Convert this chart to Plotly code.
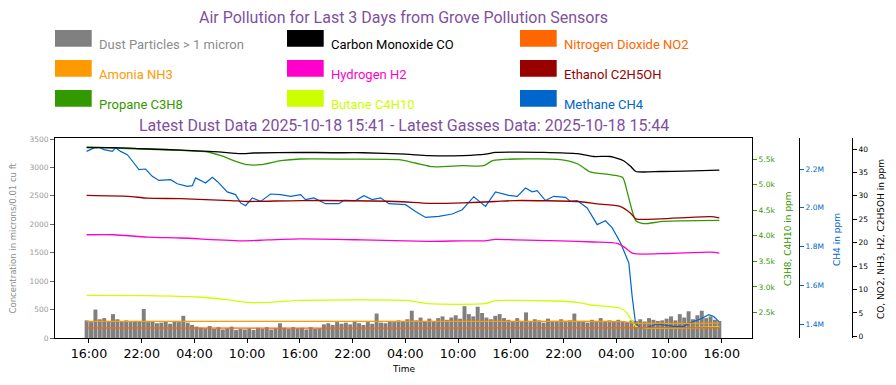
import plotly.graph_objects as go
from datetime import datetime, timedelta

# ---------------- data ----------------
START = datetime(2025, 10, 15, 15, 44)

# dust particle counts (> 1 micron), one value every 30 minutes
dust_counts = [
    310, 280, 500, 330, 350, 300, 420, 330, 290, 310, 280, 300,
    290, 510, 280, 300, 260, 270, 290, 250, 300, 280, 390, 270,
    230, 200, 180, 170, 210, 160, 190, 150, 170, 200, 140, 160,
    150, 170, 140, 180, 160, 190, 150, 170, 260, 180, 160, 190,
    170, 180, 150, 190, 160, 170, 240, 260, 230, 280, 250, 270,
    240, 300, 260, 230, 280, 250, 430, 270, 260, 300, 280, 310,
    290, 330, 480, 310, 360, 300, 340, 290, 350, 380, 320, 360,
    400, 340, 560, 420, 380, 550, 440, 360, 330, 390, 420, 350,
    320, 290, 350, 300, 450, 280, 330, 310, 270, 340, 300, 290,
    330, 280, 310, 430, 290, 300, 270, 320, 290, 350, 300, 310,
    290, 320, 300, 280, 310, 300, 330, 290, 350, 320, 300, 310,
    340, 380, 310, 420, 360, 470, 330, 400, 480, 350, 380, 320,
    300,
]
dust_step_h = 0.5

co_hours = [0, 3, 5.8, 9, 12.6, 15, 17.5, 19, 24.3, 28, 31.4, 36.3, 38.9, 42.8, 45.4,
            46.5, 48.8, 52, 55.9, 57.7, 59.6, 61.1, 61.9, 62.5, 65.3, 68, 72]
co_ppm = [40.3, 40.3, 40.1, 39.9, 39.6, 39.4, 39.0, 39.15, 39.3, 39.2, 39.2, 38.9, 38.6, 38.6, 38.9,
          39.3, 39.35, 39.3, 39.0, 38.4, 38.4, 37.5, 36.3, 35.2, 35.2, 35.3, 35.5]

no2_hours = [0, 24, 48, 62, 72]
no2_ppm = [1.8, 1.78, 1.8, 1.85, 1.85]

nh3_hours = [0, 24, 48, 61, 62.5, 72]
nh3_ppm = [3.2, 3.2, 3.22, 3.15, 2.85, 2.85]

h2_hours = [0, 3.1, 6.9, 10.7, 17.9, 20.6, 24.3, 31.4, 38.9, 42.8, 45.3, 46.5, 48.8,
            53.9, 57.7, 60.4, 61.3, 62.2, 66, 71, 72]
h2_ppm = [21.7, 21.7, 21.2, 21.0, 20.4, 20.6, 20.8, 20.6, 20.3, 20.4, 20.4, 20.7, 20.6,
          20.4, 20.15, 19.85, 18.9, 17.7, 17.7, 18.0, 17.8]

ethanol_hours = [0, 4.7, 6.9, 10.7, 16.4, 18.3, 24.3, 35.2, 38.9, 42.8, 46.5, 48.8,
                 55.9, 58.1, 60.7, 61.9, 62.5, 65.3, 71, 72]
ethanol_ppm = [30.1, 29.9, 29.5, 29.4, 29.0, 28.8, 29.0, 28.8, 28.4, 28.5, 28.8, 29.0,
               28.8, 28.3, 27.75, 26.3, 25.1, 25.1, 25.55, 25.3]

propane_hours = [0, 5.3, 10.7, 13.8, 15.2, 17.2, 18.3, 19.8, 22.1, 24.3, 30, 35.5, 37.4,
                 39.4, 42.8, 45.2, 46.2, 48.8, 53.9, 55.9, 57.3, 59.6, 61, 61.5, 62.1,
                 62.5, 63.4, 65.6, 72]
propane_ppm = [5738, 5704, 5671, 5640, 5573, 5444, 5391, 5391, 5470, 5503, 5500, 5489, 5425,
               5352, 5372, 5372, 5470, 5503, 5489, 5405, 5249, 5196, 5143, 4869, 4477,
               4295, 4237, 4282, 4301]

butane_hours = [0, 6.9, 12.6, 16, 18.3, 20.6, 24.3, 36.3, 38.9, 45.3, 46.5, 48.8, 53.2,
                55.9, 57.3, 60.7, 61.5, 62.5, 63.4, 72]
butane_ppm = [2834, 2828, 2802, 2750, 2697, 2697, 2736, 2736, 2671, 2671, 2730, 2736, 2724,
              2697, 2646, 2587, 2489, 2227, 2196, 2215]

methane_hours = [0, 0.83, 1.4, 1.97, 2.92, 3.3, 3.87, 4.63, 5.38, 5.95, 6.71, 7.47, 8.23,
                 9.56, 10.32, 11.46, 12.03, 12.4, 13.54, 14.3, 14.87, 16.0, 16.95, 17.52,
                 18.09, 18.85, 19.8, 20.93, 22.07, 23.21, 24.35, 24.91, 25.86, 27.19, 28.7,
                 29.27, 30.6, 31.55, 32.5, 33.45, 34.39, 36.29, 37.43, 38.57, 40.08, 41.6,
                 42.74, 44.06, 45.39, 46.53, 48.04, 49.0, 49.94, 50.7, 51.27, 52.22, 53.16,
                 54.49, 55.06, 55.82, 56.96, 58.1, 59.04, 59.81, 60.75, 61.7, 62.08, 62.46,
                 63.03, 63.79, 64.93, 66.82, 67.95, 69.09, 69.85, 70.8, 71.36, 71.93]
methane_millions = [2.291, 2.309, 2.312, 2.300, 2.291, 2.309, 2.291, 2.274, 2.231, 2.197, 2.200,
                    2.162, 2.141, 2.145, 2.124, 2.110, 2.114, 2.154, 2.128, 2.157, 2.136, 2.082,
                    2.068, 2.025, 2.011, 2.051, 2.033, 2.071, 2.068, 2.059, 2.068, 2.042, 2.051,
                    2.021, 2.021, 2.038, 2.037, 2.062, 2.042, 2.051, 2.021, 2.016, 1.981, 1.950,
                    1.956, 1.968, 1.990, 2.057, 2.007, 2.082, 2.064, 2.059, 2.102, 2.082, 2.088,
                    2.037, 2.059, 2.054, 2.033, 2.037, 1.999, 1.913, 1.933, 1.896, 1.820, 1.715,
                    1.543, 1.405, 1.380, 1.383, 1.400, 1.388, 1.388, 1.414, 1.426, 1.448, 1.439,
                    1.414]

dust_ticks = [0, 500, 1000, 1500, 2000, 2500, 3000, 3500]
c3_ticks = [2500, 3000, 3500, 4000, 4500, 5000, 5500]
c3_labels = ["2.5k", "3.0k", "3.5k", "4.0k", "4.5k", "5.0k", "5.5k"]
ch4_ticks = [1.4e6, 1.6e6, 1.8e6, 2.0e6, 2.2e6]
ch4_labels = ["1.4M", "1.6M", "1.8M", "2.0M", "2.2M"]
ppm_ticks = [0, 5, 10, 15, 20, 25, 30, 35, 40]

TITLE = "Air Pollution for Last 3 Days from Grove Pollution Sensors"
SUBTITLE = "Latest Dust Data 2025-10-18 15:41 - Latest Gasses Data: 2025-10-18 15:44"

# ---------------- styles ----------------
C = dict(dust="#808080", co="#000000", no2="#ff6600", nh3="#ff9900", h2="#ff00cc",
         eth="#990000", propane="#339900", butane="#ccff00", methane="#0066cc")
PURPLE = "#7f4fa0"
GRAYTXT = "#8c8c8c"


def ts(hours):
    return [START + timedelta(hours=h) for h in hours]


W, H = 896, 385
ML, MR, MT, MB = 55, 40, 138, 47
PW, PH = W - ML - MR, H - MT - MB


def pxx(x):
    return (x - ML) / PW


def pyy(y):
    return (H - MB - y) / PH


fig = go.Figure()

dust_hours = [i * dust_step_h for i in range(len(dust_counts))]
fig.add_trace(go.Bar(x=ts(dust_hours), y=dust_counts, marker=dict(color=C["dust"], line=dict(width=0)),
                     width=dust_step_h * 3600 * 1000 * 0.9, yaxis="y", name="Dust"))

lw = 1.3
for hrs, vals, col in [(co_hours, co_ppm, C["co"]), (no2_hours, no2_ppm, C["no2"]),
                       (nh3_hours, nh3_ppm, C["nh3"]), (h2_hours, h2_ppm, C["h2"]),
                       (ethanol_hours, ethanol_ppm, C["eth"])]:
    fig.add_trace(go.Scatter(x=ts(hrs), y=vals, mode="lines", yaxis="y4",
                             line=dict(color=col, width=lw, shape="spline", smoothing=0.6)))

for hrs, vals, col in [(propane_hours, propane_ppm, C["propane"]),
                       (butane_hours, butane_ppm, C["butane"])]:
    fig.add_trace(go.Scatter(x=ts(hrs), y=vals, mode="lines", yaxis="y2",
                             line=dict(color=col, width=lw, shape="spline", smoothing=0.6)))

fig.add_trace(go.Scatter(x=ts(methane_hours), y=[v * 1e6 for v in methane_millions], mode="lines",
                         yaxis="y3", line=dict(color=C["methane"], width=1.2)))

tickfont = dict(family="DejaVu Sans", size=7.5)

fig.update_layout(
    width=W, height=H, margin=dict(l=ML, r=MR, t=MT, b=MB, autoexpand=False),
    paper_bgcolor="white", plot_bgcolor="white", showlegend=False,
    font=dict(family="DejaVu Sans"),
    xaxis=dict(domain=[0, pxx(752)], type="date",
               range=["2025-10-15 12:08", "2025-10-18 19:27"],
               tick0="2025-10-15 16:00", dtick=6 * 3600 * 1000, tickformat="%H:%M",
               ticks="outside", ticklen=4, tickcolor="black",
               tickfont=dict(family="DejaVu Sans", size=12.7, color="black"),
               showline=True, linecolor="black", linewidth=1, mirror=True,
               showgrid=False, zeroline=False),
    yaxis=dict(range=[0, 3518], tickvals=dust_ticks, ticks="outside", ticklen=4,
               tickcolor="#666", tickfont=dict(tickfont, color="#999999"),
               showline=True, linecolor="black", linewidth=1, mirror=True,
               showgrid=False, zeroline=False),
    yaxis2=dict(overlaying="y", side="right", anchor="x", range=[2000, 5914],
                tickvals=c3_ticks, ticktext=c3_labels, ticks="outside", ticklen=4,
                tickcolor=C["propane"], tickfont=dict(tickfont, color=C["propane"]),
                showgrid=False, zeroline=False, showline=False),
    yaxis3=dict(overlaying="y", side="right", anchor="free", position=pxx(799),
                range=[1.328e6, 2.360e6], tickvals=ch4_ticks, ticktext=ch4_labels,
                ticks="outside", ticklen=4, tickcolor=C["methane"],
                tickfont=dict(tickfont, color=C["methane"]),
                showline=True, linecolor="black", linewidth=1,
                showgrid=False, zeroline=False),
    yaxis4=dict(overlaying="y", side="right", anchor="free", position=pxx(852),
                range=[-0.34, 42.35], tickvals=ppm_ticks, ticks="outside", ticklen=4,
                tickcolor="black", tickfont=dict(tickfont, color="black"),
                showline=True, linecolor="black", linewidth=1,
                showgrid=False, zeroline=False),
)

ann = []


def label(text, x, y, size, color, family="DejaVu Sans", angle=0, xanchor="center"):
    ann.append(dict(text=text, x=pxx(x), y=pyy(y), xref="paper", yref="paper",
                    showarrow=False, xanchor=xanchor, yanchor="middle", textangle=angle,
                    font=dict(family=family, size=size, color=color)))


# titles
label(TITLE, 403.5, 17, 16, PURPLE, family="Roboto")
label(SUBTITLE, 403.5, 125, 16, PURPLE, family="Roboto")
# axis titles
label("Time", 403.5, 369, 9, "black")
label("Concentration in microns/0.01 cu ft", 12.5, 238, 8.5, GRAYTXT, angle=-90)
label("C3H8, C4H10 in ppm", 788, 239, 9, C["propane"], angle=-90)
label("CH4 in ppm", 837, 240, 9, C["methane"], angle=-90)
label("CO, NO2, NH3, H2, C2H5OH in ppm", 881, 239, 9, "black", angle=-90)

# legend (matplotlib-like patches)
legend_items = [
    ("Dust Particles > 1 micron", C["dust"], GRAYTXT),
    ("Carbon Monoxide CO", C["co"], C["co"]),
    ("Nitrogen Dioxide NO2", C["no2"], C["no2"]),
    ("Amonia NH3", C["nh3"], C["nh3"]),
    ("Hydrogen H2", C["h2"], C["h2"]),
    ("Ethanol C2H5OH", C["eth"], C["eth"]),
    ("Propane C3H8", C["propane"], C["propane"]),
    ("Butane C4H10", C["butane"], C["butane"]),
    ("Methane CH4", C["methane"], C["methane"]),
]
col_x = [55, 287, 520]
row_y = [30, 60, 90]
shapes = []
for i, (text, pcol, tcol) in enumerate(legend_items):
    r, c = divmod(i, 3)
    x0, y0 = col_x[c], row_y[r]
    shapes.append(dict(type="rect", xref="paper", yref="paper",
                       x0=pxx(x0), x1=pxx(x0 + 36.7), y0=pyy(y0 + 16.7), y1=pyy(y0),
                       fillcolor=pcol, line=dict(width=0)))
    label(text, x0 + 42, y0 + 14.5, 13, tcol, family="Roboto", xanchor="left")

fig.update_layout(annotations=ann, shapes=shapes)

fig.write_html("out.html", config={"displayModeBar": False},
               post_script="document.body.style.margin='0';document.body.style.overflow='hidden';")
